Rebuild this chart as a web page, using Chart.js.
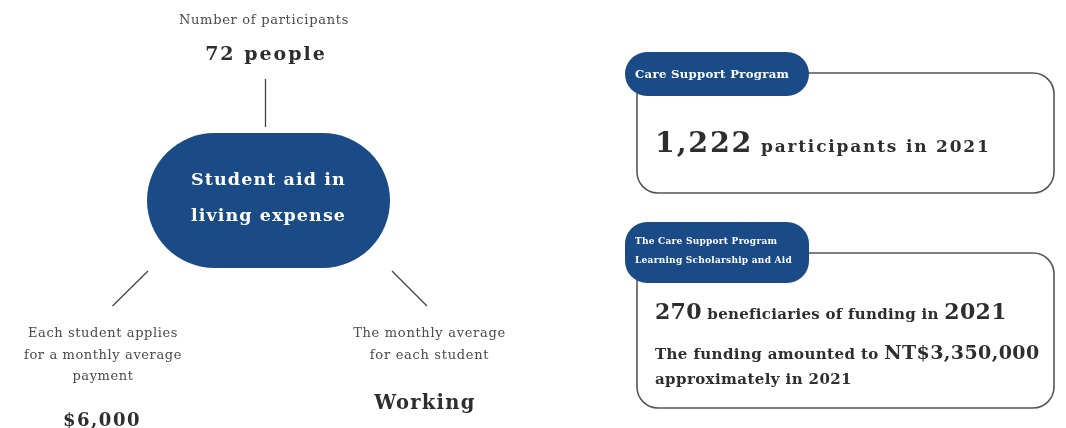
<!DOCTYPE html>
<html>
<head>
<meta charset="utf-8">
<script src="https://cdn.jsdelivr.net/npm/chart.js@4"></script>
<style>
  html, body { margin: 0; padding: 0; background: #fff; }
  #wrap { width: 1066px; height: 428px; }
</style>
</head>
<body>
<div id="wrap"><canvas id="info" width="1066" height="428"></canvas></div>
<script>
// figures shown in the infographic
const centerTitle = ['Student aid in', 'living expense'];
const participantLabel = ['Number of participants'];
const participantCount = [72];
const paymentLabel = ['Each student applies', 'for a monthly average', 'payment'];
const paymentAmount = [6000];
const workingLabel = ['The monthly average', 'for each student'];
const workingValue = ['Working'];
const programNames = [['Care Support Program'], ['The Care Support Program', 'Learning Scholarship and Aid']];
const programCounts = [1222, 270];
const programYears = [2021, 2021];
const fundingAmount = [3350000];

const NAVY = '#1b4b86';
const DARK = '#2e2e2e';
const GREY = '#4a4a4a';
const FONT = '"DejaVu Serif", "Liberation Serif", serif';

const fmt = n => n.toLocaleString('en-US');

function roundRect(ctx, x, y, w, h, r) {
  ctx.beginPath();
  ctx.moveTo(x + r, y);
  ctx.arcTo(x + w, y, x + w, y + h, r);
  ctx.arcTo(x + w, y + h, x, y + h, r);
  ctx.arcTo(x, y + h, x, y, r);
  ctx.arcTo(x, y, x + w, y, r);
  ctx.closePath();
}

// draws a row of text pieces [str, size, weight] starting at x (or centered)
function textRow(ctx, pieces, x, y, color, align, spacing) {
  ctx.fillStyle = color;
  ctx.textBaseline = 'alphabetic';
  ctx.textAlign = 'left';
  ctx.letterSpacing = (spacing || 0) + 'px';
  let total = 0;
  const widths = pieces.map(p => {
    ctx.font = p[2] + ' ' + p[1] + 'px ' + FONT;
    const w = ctx.measureText(p[0]).width;
    total += w;
    return w;
  });
  let cx = align === 'center' ? x - total / 2 : x;
  pieces.forEach((p, i) => {
    ctx.font = p[2] + ' ' + p[1] + 'px ' + FONT;
    ctx.fillText(p[0], cx, y);
    cx += widths[i];
  });
  ctx.letterSpacing = '0px';
}

const infographic = {
  id: 'infographic',
  afterDraw(chart) {
    const ctx = chart.ctx;
    const X = v => chart.scales.x.getPixelForValue(v);
    const Y = v => chart.scales.y.getPixelForValue(v);
    ctx.save();

    // left cluster
    textRow(ctx, [[participantLabel[0], 13, 'normal']], X(264), Y(24), GREY, 'center', 0.7);
    textRow(ctx, [[participantCount[0] + ' people', 19, 'bold']], X(266), Y(60), DARK, 'center', 2);

    ctx.strokeStyle = '#444';
    ctx.lineWidth = 1.3;
    ctx.beginPath();
    ctx.moveTo(X(265.5), Y(79)); ctx.lineTo(X(265.5), Y(127));
    ctx.moveTo(X(148), Y(271)); ctx.lineTo(X(112.5), Y(306));
    ctx.moveTo(X(392), Y(271)); ctx.lineTo(X(427), Y(306));
    ctx.stroke();

    ctx.fillStyle = NAVY;
    roundRect(ctx, X(147), Y(133), X(390) - X(147), Y(268) - Y(133), 67.5);
    ctx.fill();
    textRow(ctx, [[centerTitle[0], 17.5, 'bold']], X(268.5), Y(185), '#fff', 'center', 1.1);
    textRow(ctx, [[centerTitle[1], 17.5, 'bold']], X(268.5), Y(221), '#fff', 'center', 1.1);

    paymentLabel.forEach((s, i) => {
      textRow(ctx, [[s, 13, 'normal']], X(103), Y(337 + i * 21.5), GREY, 'center', 0.6);
    });
    textRow(ctx, [['$' + fmt(paymentAmount[0]), 18, 'bold']], X(102), Y(426), DARK, 'center', 1.5);

    workingLabel.forEach((s, i) => {
      textRow(ctx, [[s, 13, 'normal']], X(429.5), Y(337 + i * 21.5), GREY, 'center', 0.7);
    });
    textRow(ctx, [[workingValue[0], 19.5, 'bold']], X(425), Y(409), DARK, 'center', 1.3);

    // right boxes
    const boxes = [
      { top: 73, bottom: 193, tabTop: 52, tabBottom: 96 },
      { top: 253, bottom: 408, tabTop: 222, tabBottom: 283 }
    ];
    boxes.forEach(b => {
      ctx.strokeStyle = '#555';
      ctx.lineWidth = 1.6;
      roundRect(ctx, X(637), Y(b.top), X(1054) - X(637), Y(b.bottom) - Y(b.top), 21);
      ctx.stroke();
      ctx.fillStyle = NAVY;
      roundRect(ctx, X(625), Y(b.tabTop), X(809) - X(625), Y(b.tabBottom) - Y(b.tabTop), 22);
      ctx.fill();
    });

    textRow(ctx, [[programNames[0][0], 11.7, 'bold']], X(635), Y(78), '#fff', 'left', 0.3);
    textRow(ctx, [[programNames[1][0], 9, 'bold']], X(635), Y(244), '#fff', 'left', 0.25);
    textRow(ctx, [[programNames[1][1], 9, 'bold']], X(635), Y(263), '#fff', 'left', 0.25);

    textRow(ctx, [[fmt(programCounts[0]), 28.5, 'bold'], [' participants in ' + programYears[0], 17, 'bold']],
      X(655), Y(152), DARK, 'left', 1.8);

    textRow(ctx, [[String(programCounts[1]), 22, 'bold'], [' beneficiaries of funding in ', 15, 'bold'], [String(programYears[1]), 22, 'bold']],
      X(655), Y(319), DARK, 'left', 0.3);
    textRow(ctx, [['The funding amounted to ', 15, 'bold'], ['NT$' + fmt(fundingAmount[0]), 19, 'bold']],
      X(655), Y(359), DARK, 'left', 0.4);
    textRow(ctx, [['approximately in ' + programYears[1], 15, 'bold']], X(655), Y(384), DARK, 'left', 0.4);

    ctx.restore();
  }
};

new Chart(document.getElementById('info'), {
  type: 'scatter',
  data: { datasets: [{ data: [] }] },
  options: {
    responsive: false,
    animation: false,
    layout: { padding: 0 },
    plugins: { legend: { display: false }, tooltip: { enabled: false } },
    scales: {
      x: { display: false, min: 0, max: 1066 },
      y: { display: false, min: 0, max: 428, reverse: true }
    }
  },
  plugins: [infographic]
});
</script>
</body>
</html>
